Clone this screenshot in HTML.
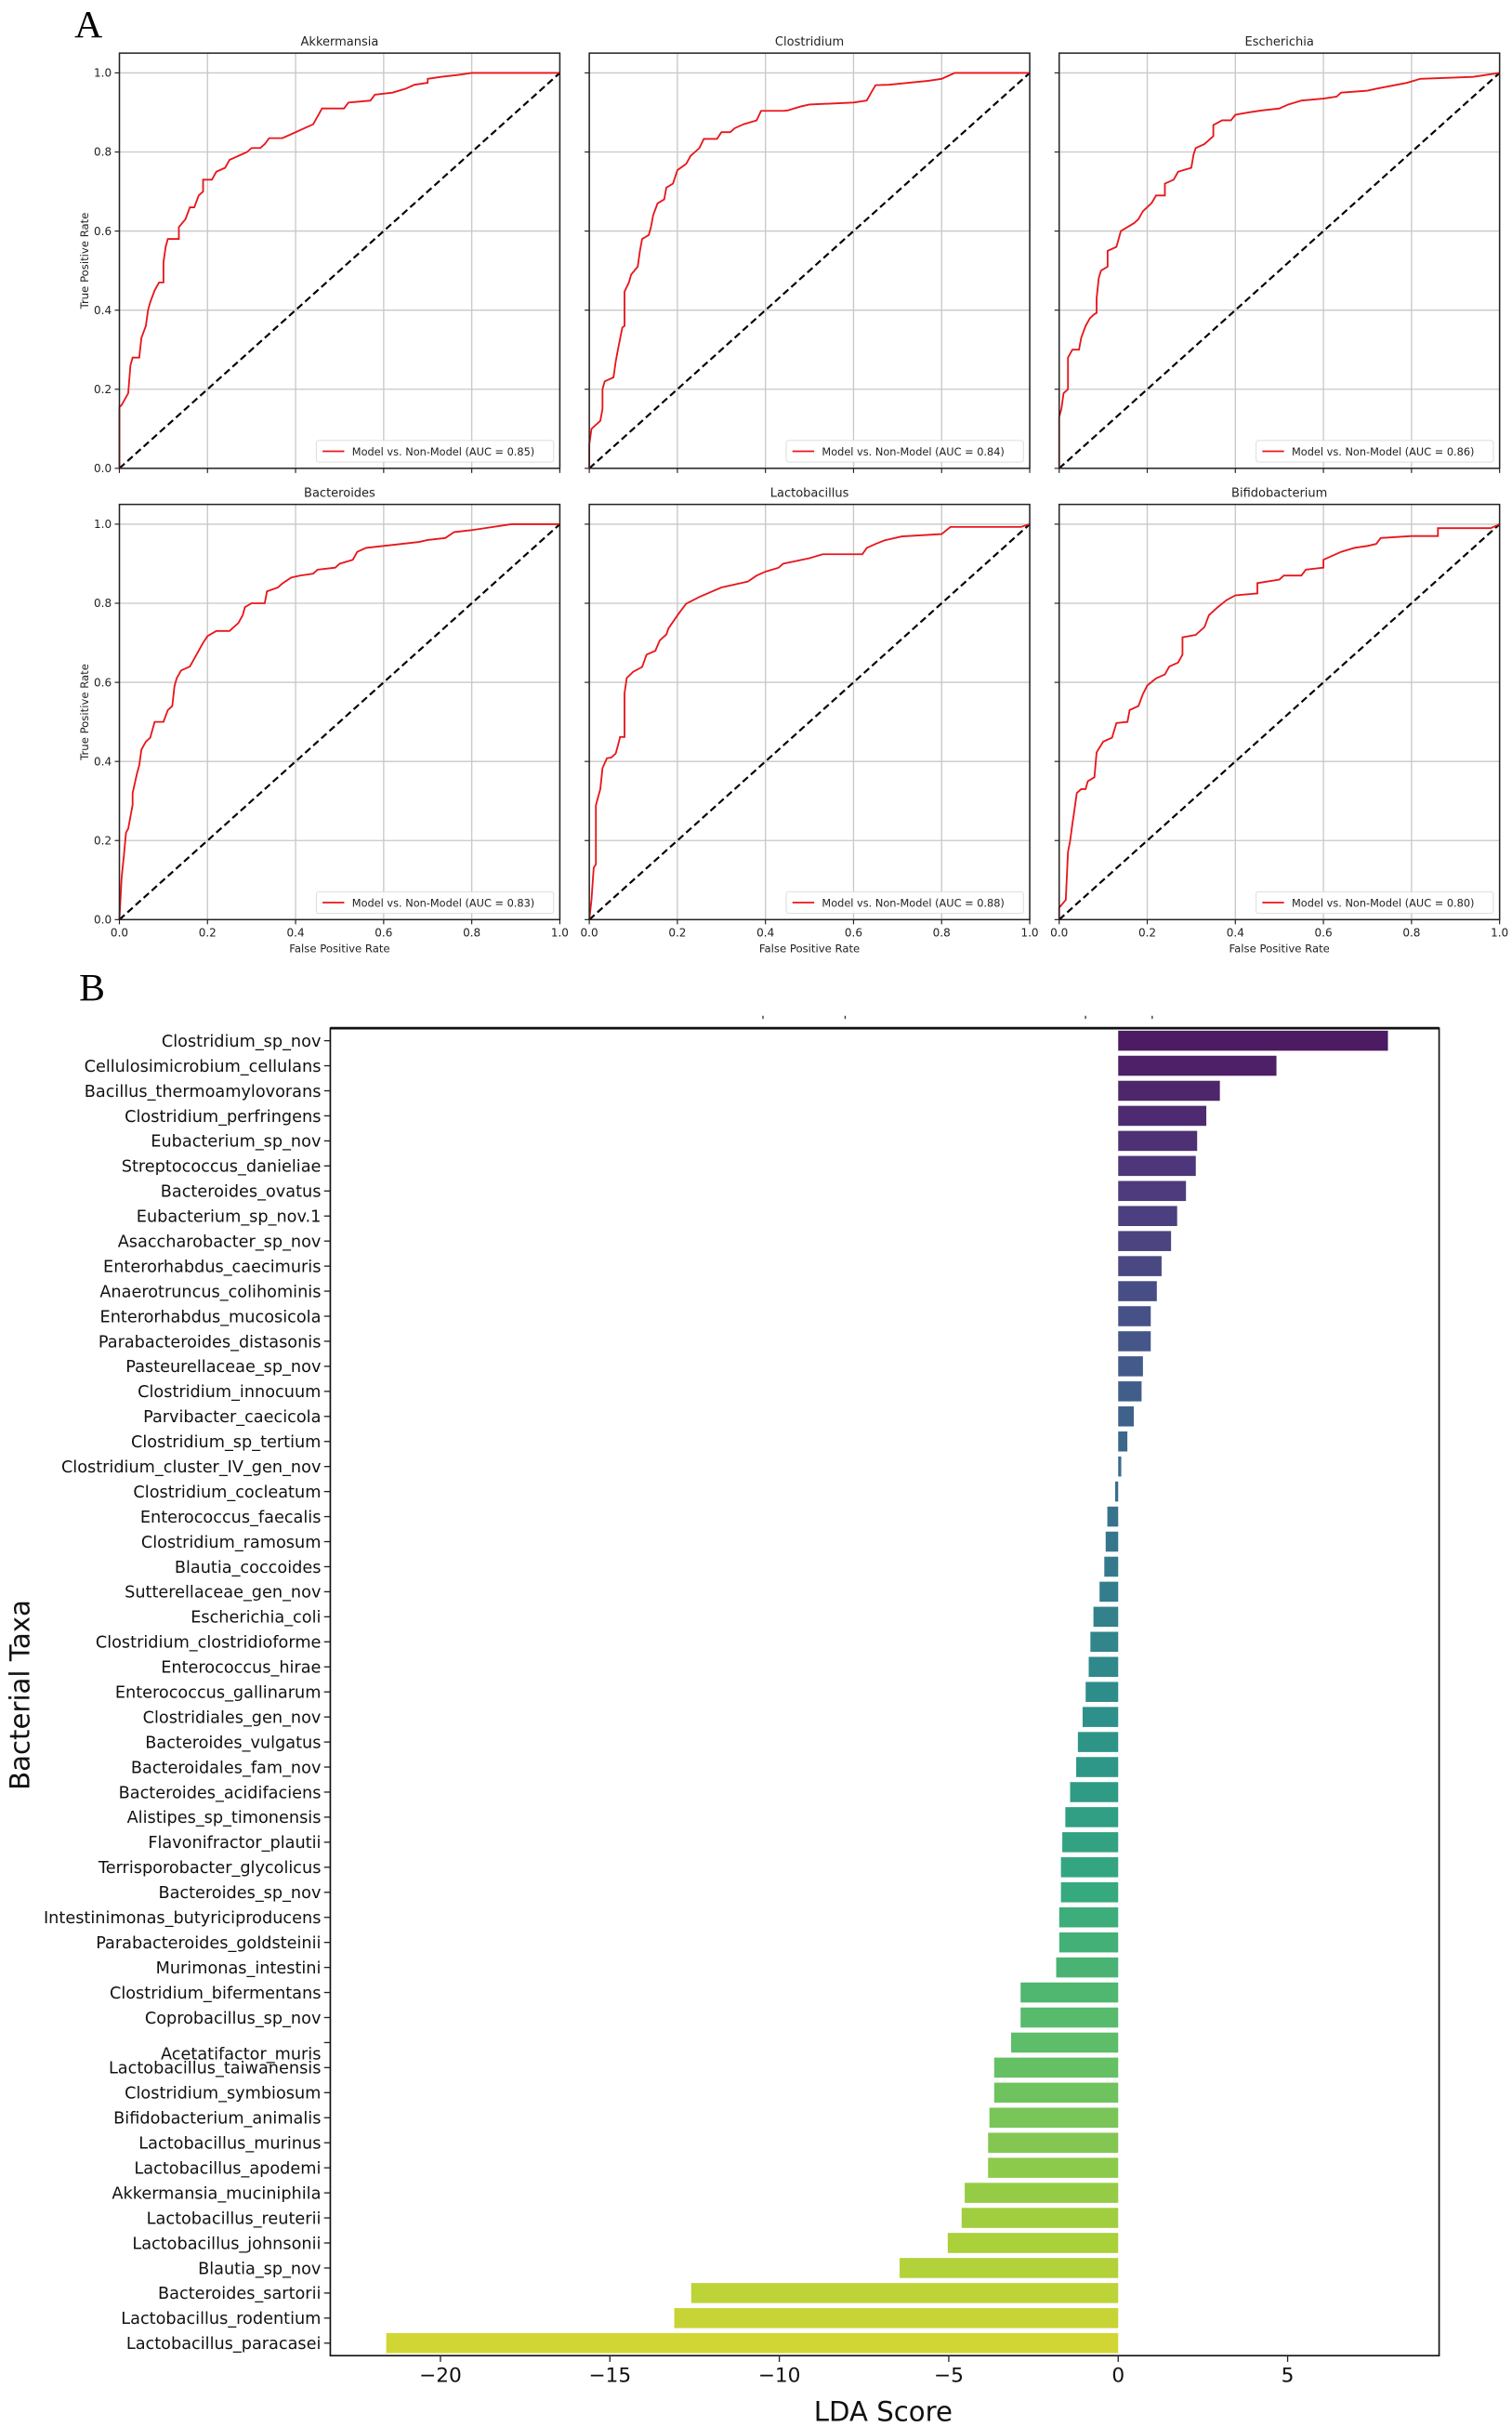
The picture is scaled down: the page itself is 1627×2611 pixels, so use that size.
<!DOCTYPE html>
<html><head><meta charset="utf-8">
<style>
html,body{margin:0;padding:0;background:#fff;}
svg{display:block;}
text{font-family:"DejaVu Sans","Liberation Sans",sans-serif;}
.serif{font-family:"Liberation Serif","DejaVu Serif",serif;}
</style></head>
<body>
<svg id="fig" width="1627" height="2611" viewBox="0 0 975 1565" preserveAspectRatio="none" xmlns="http://www.w3.org/2000/svg">
<rect width="975" height="1565" fill="#fff"/>
<text class="serif" x="48" y="24" font-size="25">A</text>
<text class="serif" x="51" y="645" font-size="25">B</text>
<g id="roc"></g>
<g id="bars"></g>
</svg>
<script>
// ---------- ROC data ----------
const rocTitles = ["Akkermansia","Clostridium","Escherichia","Bacteroides","Lactobacillus","Bifidobacterium"];
const rocAUC = ["0.85","0.84","0.86","0.83","0.88","0.80"];
const rocAkkFPR = [0,0,0,0.005,0.02,0.025,0.03,0.045,0.05,0.06,0.065,0.07,0.08,0.09,0.1,0.1,0.105,0.11,0.135,0.135,0.15,0.16,0.17,0.18,0.19,0.19,0.21,0.22,0.24,0.25,0.27,0.29,0.3,0.32,0.33,0.34,0.37,0.38,0.4,0.42,0.44,0.45,0.46,0.51,0.52,0.57,0.58,0.62,0.65,0.67,0.7,0.7,0.73,0.77,0.8,1];
const rocAkkTPR = [0,0.09,0.155,0.16,0.19,0.26,0.28,0.28,0.33,0.36,0.40,0.42,0.45,0.47,0.47,0.52,0.56,0.58,0.58,0.61,0.63,0.66,0.66,0.69,0.70,0.73,0.73,0.75,0.76,0.78,0.79,0.80,0.81,0.81,0.82,0.835,0.835,0.84,0.85,0.86,0.87,0.89,0.91,0.91,0.925,0.93,0.945,0.95,0.96,0.97,0.975,0.985,0.99,0.995,1,1];
const rocCloFPR = [0,0,0.005,0.015,0.025,0.03,0.03,0.035,0.055,0.06,0.065,0.075,0.08,0.08,0.09,0.095,0.11,0.115,0.12,0.135,0.14,0.145,0.155,0.17,0.175,0.19,0.2,0.22,0.23,0.24,0.25,0.26,0.29,0.3,0.32,0.33,0.35,0.38,0.39,0.44,0.45,0.48,0.5,0.6,0.63,0.64,0.65,0.68,0.77,0.8,0.83,1];
const rocCloTPR = [0,0.06,0.10,0.11,0.12,0.15,0.20,0.22,0.23,0.27,0.30,0.356,0.36,0.447,0.47,0.49,0.51,0.55,0.58,0.59,0.61,0.64,0.67,0.68,0.71,0.72,0.754,0.77,0.79,0.80,0.81,0.833,0.833,0.85,0.85,0.86,0.87,0.88,0.904,0.904,0.905,0.915,0.92,0.925,0.93,0.95,0.969,0.97,0.98,0.985,1,1];
const rocEscFPR = [0,0,0.005,0.01,0.02,0.02,0.03,0.045,0.05,0.06,0.07,0.08,0.085,0.085,0.09,0.095,0.11,0.11,0.13,0.135,0.14,0.155,0.17,0.18,0.19,0.21,0.22,0.24,0.24,0.26,0.27,0.3,0.305,0.31,0.33,0.35,0.35,0.37,0.39,0.4,0.43,0.46,0.5,0.52,0.55,0.6,0.63,0.64,0.7,0.72,0.79,0.82,0.94,1];
const rocEscTPR = [0,0.13,0.15,0.19,0.20,0.28,0.30,0.30,0.33,0.36,0.38,0.39,0.393,0.43,0.482,0.50,0.51,0.55,0.56,0.58,0.60,0.61,0.62,0.63,0.65,0.671,0.69,0.69,0.72,0.73,0.75,0.76,0.793,0.81,0.82,0.84,0.868,0.88,0.88,0.894,0.90,0.905,0.91,0.92,0.93,0.935,0.94,0.95,0.955,0.96,0.975,0.985,0.99,1];
const rocBacFPR = [0,0.005,0.01,0.015,0.02,0.025,0.03,0.03,0.04,0.045,0.05,0.06,0.07,0.08,0.1,0.11,0.12,0.125,0.13,0.14,0.16,0.17,0.18,0.19,0.2,0.22,0.25,0.27,0.28,0.285,0.3,0.33,0.335,0.36,0.37,0.39,0.41,0.44,0.45,0.49,0.5,0.53,0.54,0.56,0.6,0.64,0.68,0.7,0.74,0.76,0.8,0.89,1];
const rocBacTPR = [0,0.106,0.16,0.22,0.23,0.26,0.29,0.32,0.37,0.39,0.43,0.45,0.46,0.50,0.50,0.53,0.54,0.59,0.61,0.63,0.64,0.66,0.68,0.70,0.717,0.73,0.73,0.75,0.77,0.79,0.80,0.80,0.83,0.84,0.85,0.865,0.87,0.875,0.885,0.89,0.90,0.91,0.93,0.94,0.945,0.95,0.955,0.96,0.965,0.98,0.985,1,1];
const rocLacFPR = [0,0.005,0.01,0.015,0.015,0.02,0.025,0.03,0.04,0.05,0.06,0.065,0.07,0.08,0.08,0.085,0.1,0.12,0.13,0.15,0.16,0.175,0.18,0.2,0.205,0.22,0.25,0.3,0.36,0.38,0.4,0.43,0.44,0.5,0.53,0.62,0.63,0.65,0.67,0.71,0.8,0.82,0.98,1];
const rocLacTPR = [0,0.05,0.131,0.14,0.289,0.31,0.33,0.383,0.408,0.41,0.42,0.44,0.462,0.462,0.572,0.611,0.627,0.639,0.67,0.68,0.706,0.721,0.737,0.769,0.777,0.799,0.816,0.84,0.855,0.87,0.88,0.89,0.90,0.914,0.924,0.924,0.94,0.95,0.959,0.969,0.975,0.993,0.993,1];
const rocBifFPR = [0,0,0.015,0.02,0.025,0.03,0.035,0.04,0.05,0.06,0.065,0.08,0.085,0.1,0.12,0.13,0.155,0.16,0.18,0.19,0.2,0.22,0.24,0.25,0.27,0.28,0.28,0.31,0.33,0.34,0.36,0.38,0.4,0.45,0.45,0.5,0.51,0.55,0.56,0.6,0.6,0.62,0.64,0.67,0.7,0.72,0.73,0.8,0.86,0.86,0.98,1];
const rocBifTPR = [0,0.03,0.05,0.171,0.20,0.242,0.28,0.32,0.33,0.33,0.35,0.36,0.423,0.45,0.46,0.497,0.50,0.53,0.54,0.57,0.592,0.61,0.62,0.64,0.65,0.67,0.714,0.72,0.74,0.77,0.79,0.808,0.82,0.825,0.851,0.86,0.87,0.87,0.885,0.89,0.91,0.92,0.93,0.94,0.945,0.95,0.965,0.97,0.97,0.99,0.99,1];
const rocFPR = [rocAkkFPR,rocCloFPR,rocEscFPR,rocBacFPR,rocLacFPR,rocBifFPR];
const rocTPR = [rocAkkTPR,rocCloTPR,rocEscTPR,rocBacTPR,rocLacTPR,rocBifTPR];
const rocTicks = [0,0.2,0.4,0.6,0.8,1.0];
const rocTickLabels = ["0.0","0.2","0.4","0.6","0.8","1.0"];

// ---------- LDA data ----------
const taxa = ["Clostridium_sp_nov","Cellulosimicrobium_cellulans","Bacillus_thermoamylovorans","Clostridium_perfringens","Eubacterium_sp_nov","Streptococcus_danieliae","Bacteroides_ovatus","Eubacterium_sp_nov.1","Asaccharobacter_sp_nov","Enterorhabdus_caecimuris","Anaerotruncus_colihominis","Enterorhabdus_mucosicola","Parabacteroides_distasonis","Pasteurellaceae_sp_nov","Clostridium_innocuum","Parvibacter_caecicola","Clostridium_sp_tertium","Clostridium_cluster_IV_gen_nov","Clostridium_cocleatum","Enterococcus_faecalis","Clostridium_ramosum","Blautia_coccoides","Sutterellaceae_gen_nov","Escherichia_coli","Clostridium_clostridioforme","Enterococcus_hirae","Enterococcus_gallinarum","Clostridiales_gen_nov","Bacteroides_vulgatus","Bacteroidales_fam_nov","Bacteroides_acidifaciens","Alistipes_sp_timonensis","Flavonifractor_plautii","Terrisporobacter_glycolicus","Bacteroides_sp_nov","Intestinimonas_butyriciproducens","Parabacteroides_goldsteinii","Murimonas_intestini","Clostridium_bifermentans","Coprobacillus_sp_nov","Acetatifactor_muris","Lactobacillus_taiwanensis","Clostridium_symbiosum","Bifidobacterium_animalis","Lactobacillus_murinus","Lactobacillus_apodemi","Akkermansia_muciniphila","Lactobacillus_reuterii","Lactobacillus_johnsonii","Blautia_sp_nov","Bacteroides_sartorii","Lactobacillus_rodentium","Lactobacillus_paracasei"];
const ldaScores = [7.96,4.67,3.0,2.6,2.33,2.29,2.0,1.74,1.56,1.28,1.14,0.96,0.96,0.73,0.69,0.46,0.27,0.09,-0.09,-0.32,-0.37,-0.41,-0.55,-0.73,-0.82,-0.87,-0.96,-1.05,-1.19,-1.24,-1.42,-1.56,-1.65,-1.69,-1.69,-1.74,-1.74,-1.83,-2.88,-2.88,-3.16,-3.66,-3.66,-3.8,-3.84,-3.84,-4.53,-4.62,-5.03,-6.45,-12.6,-13.1,-21.6];
const ldaTicks = [-20,-15,-10,-5,0,5];
const ldaTickLabels = ["\u221220","\u221215","\u221210","\u22125","0","5"];

const NS = "http://www.w3.org/2000/svg";
function mk(tag, attrs, parent, txt){
  const e = document.createElementNS(NS, tag);
  for (const k in attrs) e.setAttribute(k, attrs[k]);
  if (txt !== undefined) e.textContent = txt;
  parent.appendChild(e);
  return e;
}

// ---------- ROC panels ----------
const roc = document.getElementById('roc');
const colX = [77, 380, 683], rowY1 = [47, 338], pw = 284, ph = 255;
for (let p = 0; p < 6; p++) {
  const c = p % 3, r = Math.floor(p / 3);
  const x0 = colX[c], yb = rowY1[r] + ph;
  const sx = v => x0 + v * pw;
  const sy = v => yb - v * ph;
  const g = mk('g', {}, roc);
  
  
  const top = sy(1.05);
  rocTicks.forEach((t, i) => {
    const gv = mk('line', {x1: sx(t), x2: sx(t), y1: top, y2: yb, stroke: '#c8c8c8', 'stroke-width': 0.8}, g);
    
    
    const gh = mk('line', {x1: x0, x2: x0 + pw, y1: sy(t), y2: sy(t), stroke: '#c8c8c8', 'stroke-width': 0.8}, g);
    
    
    mk('line', {x1: x0 - 3, x2: x0, y1: sy(t), y2: sy(t), stroke: '#222', 'stroke-width': 0.7}, g);
    mk('line', {x1: sx(t), x2: sx(t), y1: yb, y2: yb + 3, stroke: '#222', 'stroke-width': 0.7}, g);
    if (c === 0) {
      const tl = mk('text', {x: x0 - 5, y: sy(t) + 2.5, 'font-size': 7.2, 'text-anchor': 'end', fill: '#222'}, g, rocTickLabels[i]);
      
      
    }
    if (r === 1) {
      const tl = mk('text', {x: sx(t), y: yb + 11, 'font-size': 7.2, 'text-anchor': 'middle', fill: '#222'}, g, rocTickLabels[i]);
      
      
    }
  });
  const dg = mk('line', {x1: sx(0), y1: sy(0), x2: sx(1), y2: sy(1), stroke: '#000', 'stroke-width': 1.3, 'stroke-dasharray': '4.5,2.5'}, g);
  
  
  const pts = rocFPR[p].map((v, i) => sx(v).toFixed(2) + ',' + sy(rocTPR[p][i]).toFixed(2)).join(' ');
  const cv = mk('polyline', {points: pts, fill: 'none', stroke: '#e8161b', 'stroke-width': 1.1, 'stroke-linejoin': 'miter'}, g);
  
  
  const fr = mk('rect', {x: x0, y: top, width: pw, height: yb - top, fill: 'none', stroke: '#222', 'stroke-width': 0.9}, g);
  
  
  const tt = mk('text', {x: x0 + pw / 2, y: top - 5, 'font-size': 7.8, 'text-anchor': 'middle', fill: '#222'}, g, rocTitles[p]);
  
  
  const lg = mk('g', {}, g);
  
  
  mk('rect', {x: x0 + 127, y: yb - 18, width: 153, height: 14, fill: '#fff', 'fill-opacity': 0.85, stroke: '#ddd', 'stroke-width': 0.6, rx: 1.5}, lg);
  mk('line', {x1: x0 + 131, x2: x0 + 145, y1: yb - 11, y2: yb - 11, stroke: '#e8161b', 'stroke-width': 1.1}, lg);
  const lt = mk('text', {x: x0 + 150, y: yb - 8.4, 'font-size': 6.8, fill: '#222'}, lg, 'Model vs. Non-Model (AUC = ' + rocAUC[p] + ')');
  
  
  if (c === 0) {
    const yl = mk('text', {x: 0, y: 0, 'font-size': 7, 'text-anchor': 'middle', fill: '#222', transform: 'translate(57,' + ((top + yb) / 2) + ') rotate(-90)'}, g, 'True Positive Rate');
    
    
  }
  if (r === 1) {
    const xl = mk('text', {x: x0 + pw / 2, y: yb + 21, 'font-size': 7, 'text-anchor': 'middle', fill: '#222'}, g, 'False Positive Rate');
    
    
  }
}

// ---------- LDA bar chart ----------
const bars = document.getElementById('bars');
const axL = 213, axR = 928, axT = 663, axB = 1519;
const xMin = -23.25, xMax = 9.47;
const bx = v => axL + (v - xMin) / (xMax - xMin) * (axR - axL);
const step = (axB - axT) / taxa.length;
const by = i => axT + step * (i + 0.5);
const stops = [[0,[68,1,84]],[0.125,[71,45,123]],[0.25,[59,82,139]],[0.375,[44,114,142]],[0.5,[33,145,140]],[0.625,[40,174,128]],[0.75,[94,201,98]],[0.875,[173,220,48]],[1,[253,231,37]]];
function viridis(t){
  for (let k = 0; k < stops.length - 1; k++) {
    const a = stops[k], b = stops[k + 1];
    if (t <= b[0]) {
      const f = (t - a[0]) / (b[0] - a[0]);
      const col = a[1].map((v, j) => Math.round((v + (b[1][j] - v) * f) * 0.87 + 128 * 0.13));
      return 'rgb(' + col.join(',') + ')';
    }
  }
  return 'rgb(253,231,37)';
}
[492, 545, 700, 743].forEach(xp => {
  const m = mk('line', {x1: xp, x2: xp, y1: 655, y2: 657, stroke: '#333', 'stroke-width': 0.8}, bars);
  
  
});
taxa.forEach((name, i) => {
  const v = ldaScores[i];
  const n = taxa.length;
  const col = viridis(0.03 + 0.92 * i / (n - 1));
  const h = step * 0.8;
  const b = mk('rect', {x: Math.min(bx(0), bx(v)), y: by(i) - h / 2, width: Math.abs(bx(v) - bx(0)), height: h, fill: col}, bars);
  
  
  mk('line', {x1: axL - 4, x2: axL, y1: by(i), y2: by(i), stroke: '#222', 'stroke-width': 0.8}, bars);
  const dy = name === 'Acetatifactor_muris' ? 7 : 0;
  const t = mk('text', {x: axL - 6, y: by(i) + 3.8 + dy, 'font-size': 10.6, 'text-anchor': 'end', fill: '#111'}, bars, name);
  
  
});
const fr = mk('rect', {x: axL, y: axT, width: axR - axL, height: axB - axT, fill: 'none', stroke: '#111', 'stroke-width': 1}, bars);


mk('line', {x1: axL, x2: axR, y1: axT, y2: axT, stroke: '#111', 'stroke-width': 1.6}, bars);
ldaTicks.forEach((t, i) => {
  mk('line', {x1: bx(t), x2: bx(t), y1: axB, y2: axB + 4, stroke: '#222', 'stroke-width': 0.8}, bars);
  const tl = mk('text', {x: bx(t), y: axB + 17, 'font-size': 13, 'text-anchor': 'middle', fill: '#111'}, bars, ldaTickLabels[i]);
  
  
});
const xt = mk('text', {x: (axL + axR) / 2 - 1, y: 1561, 'font-size': 17.5, 'text-anchor': 'middle', fill: '#111'}, bars, 'LDA Score');


const yt = mk('text', {x: 0, y: 0, 'font-size': 17.5, 'text-anchor': 'middle', fill: '#111', transform: 'translate(19,1093) rotate(-90)'}, bars, 'Bacterial Taxa');


</script>
</body></html>
